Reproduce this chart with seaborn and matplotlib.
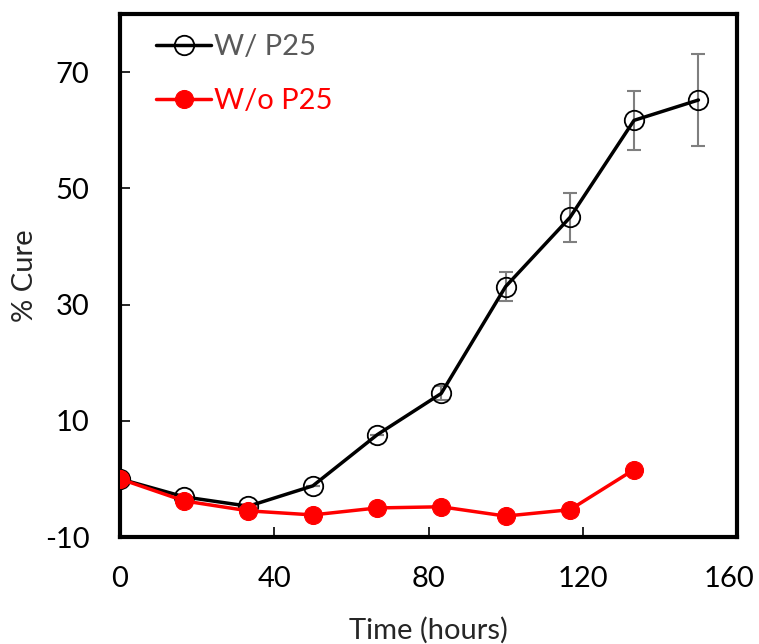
import matplotlib
matplotlib.use("Agg")
import matplotlib.pyplot as plt
import matplotlib.transforms as mtransforms
import seaborn as sns
import pandas as pd

time_w = [0, 16.7, 33.3, 50, 66.7, 83.3, 100, 116.7, 133.3, 150]
cure_w = [0, -3.1, -4.7, -1.2, 7.6, 14.7, 33.1, 45.0, 61.7, 65.2]
err_w = [0, 0, 0, 0, 0, 1.2, 2.5, 4.2, 5.1, 8.0]

time_wo = [0, 16.7, 33.3, 50, 66.7, 83.3, 100, 116.7, 133.3]
cure_wo = [0, -3.8, -5.5, -6.2, -5.0, -4.8, -6.4, -5.3, 1.6]

sns.set_theme(style="white")
plt.rcParams['font.family'] = ['Lato', 'DejaVu Sans']
plt.rcParams['axes.unicode_minus'] = False

fig = plt.figure(figsize=(7.59, 6.44), dpi=100)
ax = fig.add_axes([120/759, 1-537/644, (737-120)/759, (537-14)/644])

ax.errorbar(time_w, cure_w, yerr=err_w, fmt='none', ecolor='#7f7f7f',
            elinewidth=1.5, capsize=5, capthick=1.5, zorder=1)

df_w = pd.DataFrame({"Time": time_w, "Cure": cure_w})
df_wo = pd.DataFrame({"Time": time_wo, "Cure": cure_wo})

sns.lineplot(data=df_w, x="Time", y="Cure", ax=ax, color='black', lw=2.5,
             marker='o', markersize=14, markerfacecolor='none',
             markeredgecolor='black', markeredgewidth=1.3, label='W/ P25', zorder=2)
sns.lineplot(data=df_wo, x="Time", y="Cure", ax=ax, color='#ff0000', lw=2.5,
             marker='o', markersize=13, markerfacecolor='#ff0000',
             markeredgecolor='#ff0000', label='W/o P25', zorder=3)

ax.set_xlim(0, 160)
ax.set_ylim(-10, 80)
ax.set_xticks([0, 40, 80, 120, 160])
ax.set_yticks([-10, 10, 30, 50, 70])
ax.tick_params(axis='x', direction='in', length=7, width=1.2, labelsize=21,
               colors='black', pad=21, bottom=True)
ax.tick_params(axis='y', direction='in', length=7, width=1.2, labelsize=21,
               colors='black', pad=22, left=True)
for s in ax.spines.values():
    s.set_linewidth(3)
    s.set_color('black')
ax.set_xlabel("Time (hours)", fontsize=21, labelpad=18)
ax.set_ylabel("% Cure", fontsize=21, labelpad=5)

fig.canvas.draw()
last = ax.get_xticklabels()[-1]
last.set_transform(last.get_transform() +
                   mtransforms.ScaledTranslation(-8/100, 0, fig.dpi_scale_trans))

leg = ax.legend(loc='upper left', frameon=False, fontsize=21, handlelength=1.9,
                handletextpad=0.1, borderaxespad=0.3, labelspacing=0.95,
                bbox_to_anchor=(0.025, 1.0))
leg.get_texts()[0].set_color('#595959')
leg.get_texts()[1].set_color('#ff0000')

fig.savefig("out.png", dpi=100)
